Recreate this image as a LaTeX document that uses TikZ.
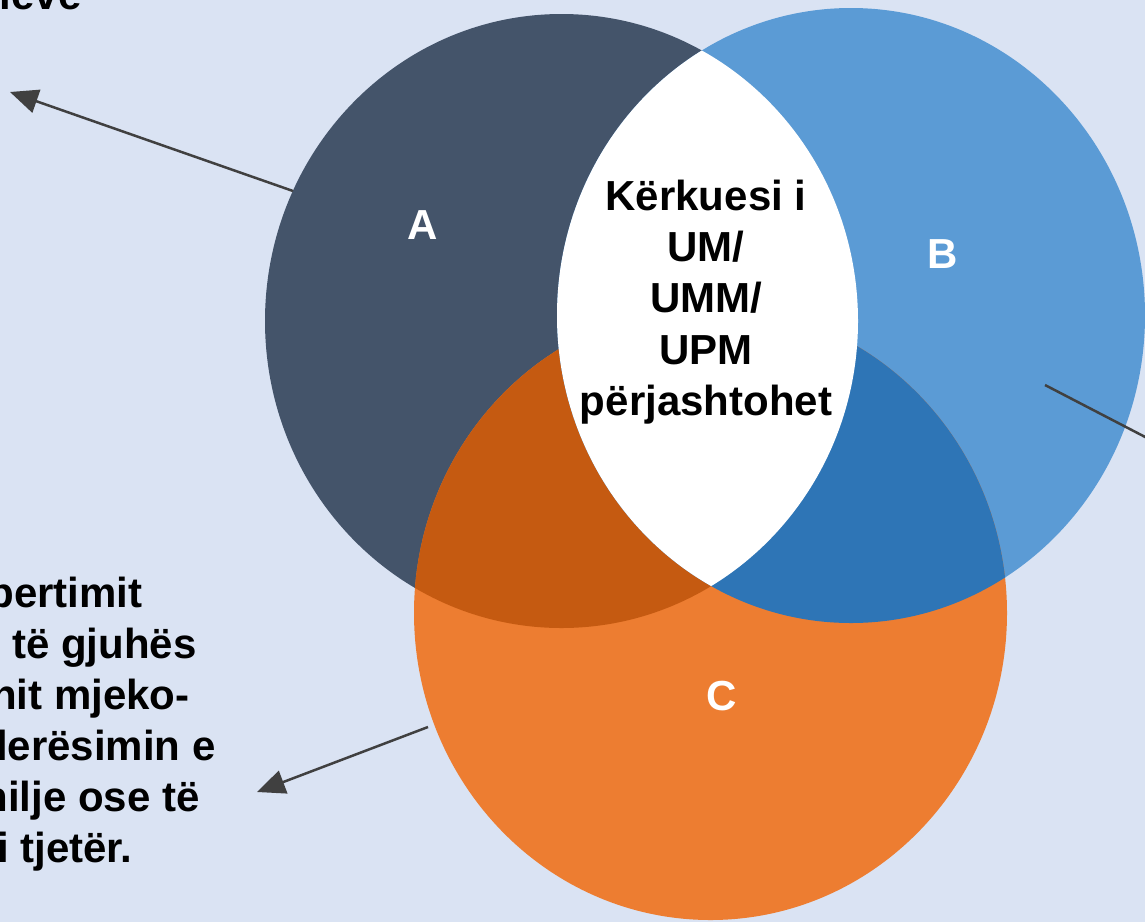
\documentclass[tikz,border=0pt]{standalone}
\usepackage{fontspec}
\setmainfont{Liberation Sans}
\usetikzlibrary{arrows.meta}
\definecolor{bgblue}{HTML}{DAE3F3}
\definecolor{setA}{HTML}{44546A}
\definecolor{setB}{HTML}{5B9BD5}
\definecolor{setC}{HTML}{ED7D31}
\definecolor{setAC}{HTML}{C55A11}
\definecolor{setBC}{HTML}{2E75B6}
\definecolor{arrowgray}{HTML}{404040}
\begin{document}
\begin{tikzpicture}[x=0.5pt, y=-0.5pt,
        lbl/.style={font=\fontsize{21}{25.65}\selectfont\bfseries},
        setlbl/.style={lbl, text=white, anchor=base},
        notelbl/.style={lbl, inner sep=0pt, anchor=base east},
        pointer/.style={draw=arrowgray, line width=1.25pt, -{Triangle[length=14pt, width=12pt]}}]
            \useasboundingbox (0, 0) rectangle (1145, 922);
            \clip (0, 0) rectangle (1145, 922);
            \fill[bgblue] (0, 0) rectangle (1145, 922);

            \def\circA{(561.5, 321) ellipse [x radius=296.5, y radius=307]}
            \def\circB{(851, 315.5) ellipse [x radius=294, y radius=307.5]}
            \def\circC{(710.5, 613) ellipse [x radius=296.5, y radius=307]}

            \fill[setA] \circA;
            \fill[setB] \circB;
            \fill[setC] \circC;
            \begin{scope}
                \clip \circA;
                \fill[setAC] \circC;
            \end{scope}
            \begin{scope}
                \clip \circB;
                \fill[setBC] \circC;
            \end{scope}
            \begin{scope}
                \clip \circA;
                \fill[white] \circB;
            \end{scope}

            \node[setlbl] (A) at (423, 239) {A};
            \node[setlbl] (B) at (943, 268) {B};
            \node[setlbl] (C) at (722, 710) {C};
            \node[lbl, align=center] (core) at (706, 302) {Kërkuesi i\\UM/\\UMM/\\UPM\\përjashtohet};

            \node[notelbl] (topnote) at (82, 9) {ieve};
            \foreach \txt/\xe/\yb [count=\n] in {pertimit/143/607, të gjuhës/197/658, nit mjeko-/190/709,
                    lerësimin e/216/760, hilje ose të/200/811, i tjetër./133/862}
                \node[notelbl] (note\n) at (\xe, \yb) {\txt};

            \coordinate (A-out) at (293, 191);
            \coordinate (A-tip) at (10, 92);
            \coordinate (B-out) at (1045, 385);
            \coordinate (B-tip) at (1230, 481);
            \coordinate (C-out) at (428, 727);
            \coordinate (C-tip) at (257, 792);
            \draw[pointer] (A-out) -- (A-tip);
            \draw[pointer] (B-out) -- (B-tip);
            \draw[pointer] (C-out) -- (C-tip);
        \end{tikzpicture}
\end{document}
